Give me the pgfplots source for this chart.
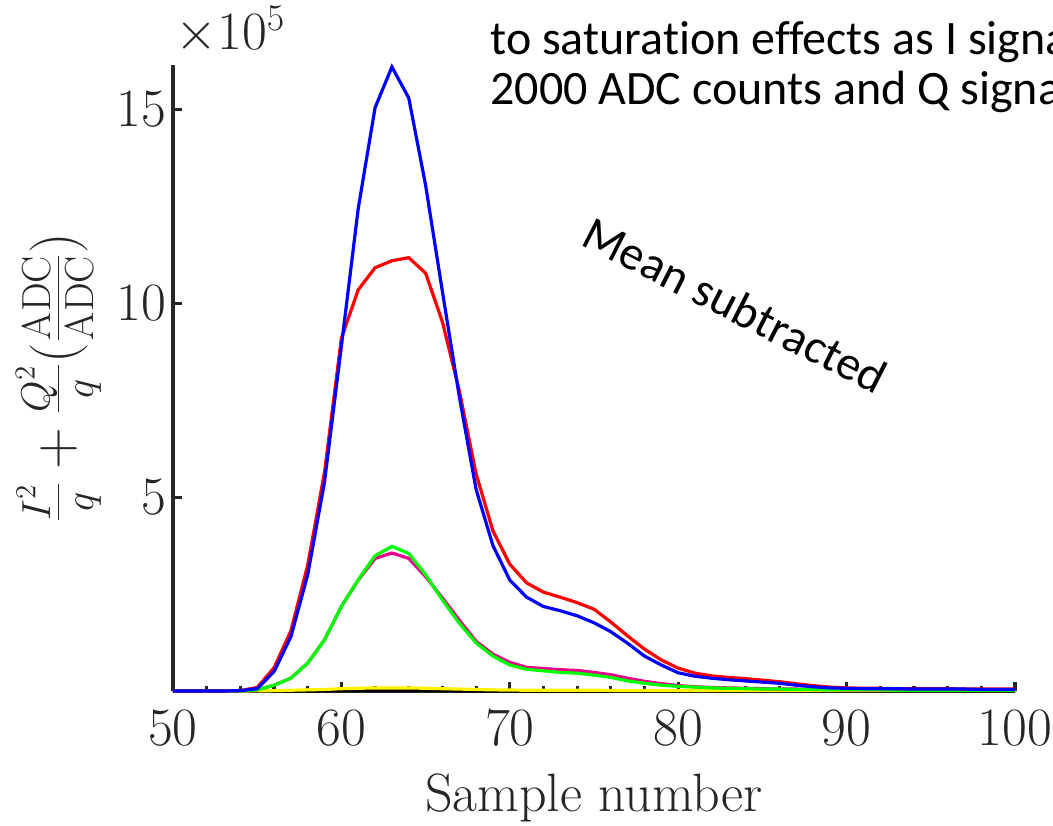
\RequirePackage{fix-cm}
\documentclass[border=0pt]{standalone}
\usepackage{fontspec}
\usepackage{pgfplots}
\usepackage{pgfplotstable}
\pgfplotsset{compat=1.18}
\newfontfamily\carlito[Ligatures=NoCommon]{Carlito}
\definecolor{axgray}{RGB}{38,38,38}
\pgfplotstableread{
s   B     R     G     M     Y      K
50  0     0     0     0     0      0
51  0     0     0     0     0      0
52  0     0     0     0     0      0
53  0     0     0     0     0      0
54  0.01  0.01  0     0     0      0
55  0.06  0.09  0.03  0.03  0.005  0
56  0.50  0.60  0.15  0.15  0.01   0
57  1.40  1.55  0.33  0.33  0.02   0
58  3.00  3.25  0.72  0.72  0.03   0
59  5.40  5.65  1.32  1.32  0.04   0.005
60  8.90  9.10  2.18  2.18  0.06   0.01
61  12.45 10.35 2.87  2.86  0.07   0.01
62  15.05 10.92 3.49  3.42  0.08   0.01
63  16.10 11.10 3.73  3.56  0.08   0.01
64  15.30 11.18 3.55  3.42  0.08   0.01
65  13.05 10.78 3.00  2.95  0.07   0.01
66  10.30 9.52  2.35  2.40  0.06   0.01
67  7.60  7.75  1.75  1.83  0.05   0.005
68  5.20  5.60  1.24  1.28  0.04   0
69  3.75  4.13  0.90  0.95  0.03   0
70  2.86  3.27  0.67  0.74  0.025  0
71  2.42  2.79  0.56  0.61  0.02   0
72  2.18  2.55  0.52  0.58  0.02   0
73  2.07  2.42  0.48  0.55  0.02   0
74  1.94  2.28  0.46  0.53  0.02   0
75  1.76  2.11  0.41  0.48  0.02   0
76  1.53  1.78  0.35  0.42  0.015  0
77  1.23  1.42  0.26  0.33  0.015  0
78  0.90  1.08  0.20  0.25  0.015  0
79  0.67  0.80  0.15  0.19  0.015  0
80  0.47  0.59  0.12  0.14  0.015  0
81  0.38  0.46  0.10  0.11  0.01   0
82  0.33  0.39  0.08  0.09  0.01   0
83  0.29  0.35  0.07  0.08  0.01   0
84  0.26  0.32  0.06  0.07  0.01   0
85  0.23  0.28  0.05  0.06  0.01   0
86  0.20  0.24  0.05  0.05  0.01   0
87  0.15  0.19  0.04  0.05  0.01   0
88  0.11  0.14  0.04  0.04  0.01   0
89  0.08  0.10  0.03  0.04  0.01   0
90  0.07  0.08  0.03  0.03  0.01   0
91  0.06  0.07  0.03  0.03  0.01   0
92  0.06  0.07  0.03  0.03  0.01   0
93  0.06  0.06  0.02  0.03  0.01   0
94  0.05  0.06  0.02  0.03  0.01   0
95  0.05  0.06  0.02  0.02  0.01   0
96  0.05  0.06  0.02  0.02  0.01   0
97  0.05  0.05  0.02  0.02  0.01   0
98  0.04  0.05  0.02  0.02  0.01   0
99  0.04  0.05  0.02  0.02  0.01   0
100 0.04  0.05  0.02  0.02  0.01   0
}\datatable
\begin{document}
\begin{tikzpicture}
\begin{axis}[
  at={(0,0)}, anchor=south west,
  scale only axis, width=421pt, height=313pt,
  xmin=50, xmax=100, ymin=0, ymax=16.15,
  axis x line=bottom, axis y line=left,
  axis line style={-, line width=1.6pt, color=axgray},
  tick align=inside,
  xtick={50,60,70,80,90,100}, ytick={5,10,15},
  minor x tick num=4,
  major tick length=4.5pt, minor tick length=2.5pt,
  every tick/.style={line width=1.6pt, color=axgray},
  tick label style={font=\fontsize{27}{32}\selectfont, text=axgray},
  xticklabel style={yshift=-6.5pt},
  label style={font=\fontsize{27}{32}\selectfont, text=axgray},
  xlabel={Sample number},
  xlabel style={at={(axis description cs:0.5,-0.193)}, anchor=base},
  ylabel={$\frac{I^2}{q}+\frac{Q^2}{q}(\frac{\mathrm{ADC}}{\mathrm{ADC}})$},
  ylabel style={at={(axis description cs:-0.136,0.5)}, anchor=center, font=\fontsize{29}{34}\selectfont},
  clip=false,
]
\addplot[black, line width=1.6pt] table[x=s, y=K] {\datatable};
\addplot[yellow, line width=1.6pt] table[x=s, y=Y] {\datatable};
\addplot[magenta, line width=1.6pt] table[x=s, y=M] {\datatable};
\addplot[green, line width=1.6pt] table[x=s, y=G] {\datatable};
\addplot[red, line width=1.6pt] table[x=s, y=R] {\datatable};
\addplot[blue, line width=1.6pt] table[x=s, y=B] {\datatable};
\end{axis}
\node[anchor=base west, inner sep=0pt, font=\fontsize{27}{32}\selectfont, text=axgray] at (1pt,320.5pt) {$\times10^{5}$};
\node[anchor=base west, inner sep=0pt, font=\carlito\fontsize{24}{30}\selectfont] at (158.5pt,318pt) {to saturation effects as I signa};
\node[anchor=base west, inner sep=0pt, font=\carlito\fontsize{24}{30}\selectfont] at (158.5pt,293pt) {2000 ADC counts and Q signa};
\node[rotate=-27, inner sep=0pt, font=\carlito\fontsize{24}{30}\selectfont] at (281pt,193pt) {Mean subtracted};
\pgfresetboundingbox
\useasboundingbox (-86.5pt,-67pt) rectangle (440pt,345.5pt);
\end{tikzpicture}
\end{document}
